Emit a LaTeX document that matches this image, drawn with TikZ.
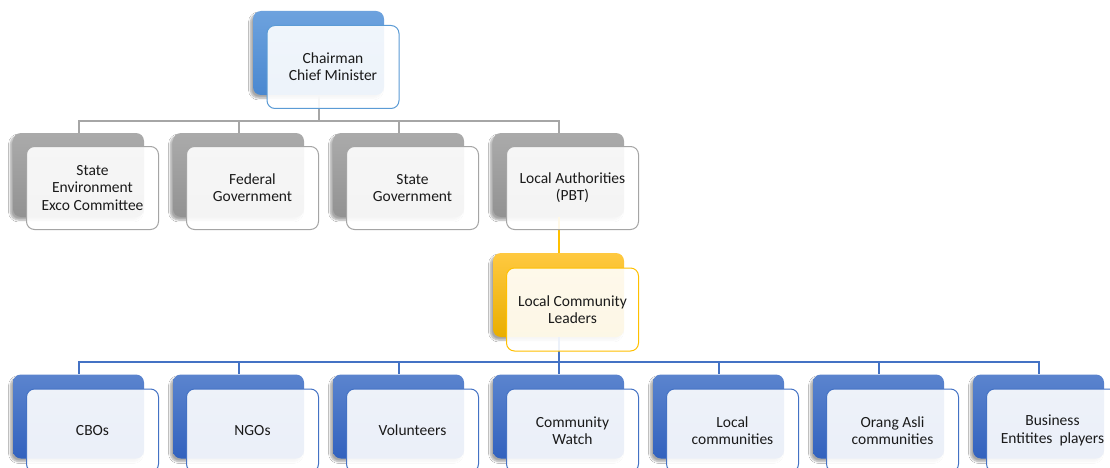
\documentclass[tikz,border=0pt]{standalone}
\usepackage{fontspec}
\setmainfont{Carlito}
\usetikzlibrary{shadows.blur}
\definecolor{cGray}{HTML}{A6A6A6}
\definecolor{cGrayEdge}{HTML}{A5A5A5}
\definecolor{cBlue}{HTML}{4472C4}
\definecolor{cBlueTop}{HTML}{5B84CE}
\definecolor{cBlueBot}{HTML}{3262BE}
\definecolor{cSkyTop}{HTML}{6DA2DE}
\definecolor{cSkyBot}{HTML}{4A88D0}
\definecolor{cSkyEdge}{HTML}{5B9BD5}
\definecolor{cGoldTop}{HTML}{FFC940}
\definecolor{cGoldBot}{HTML}{E9AE00}
\definecolor{cGold}{HTML}{FFC000}
\definecolor{cInk}{HTML}{1A1A1A}
\tikzset{
  backbox/.style={rounded corners=8pt, minimum width=131pt, minimum height=84pt,
    inner sep=0pt, draw=none,
    blur shadow={shadow xshift=-2.5pt, shadow yshift=-3pt, shadow blur steps=6, shadow opacity=35}},
  frontbox/.style={rounded corners=8pt, minimum width=132pt, minimum height=83pt,
    inner sep=0pt, align=center, line width=1pt, fill=white, fill opacity=0.9,
    text opacity=1, text=cInk, font=\fontsize{15.5}{17.3}\selectfont},
  grayback/.style={backbox, top color=cGray!95!white, bottom color=cGray!88!black},
  grayfront/.style={frontbox, draw=cGrayEdge},
  skyback/.style={backbox, top color=cSkyTop, bottom color=cSkyBot},
  skyfront/.style={frontbox, draw=cSkyEdge},
  goldback/.style={backbox, top color=cGoldTop, bottom color=cGoldBot},
  goldfront/.style={frontbox, draw=cGold},
  blueback/.style={backbox, top color=cBlueTop, bottom color=cBlueBot},
  bluefront/.style={frontbox, draw=cBlue},
  wire/.style={line width=2pt},
}
\begin{document}
\begin{tikzpicture}[x=1pt, y=-1pt]
\useasboundingbox (0,0) rectangle (1110,468);
\clip (0,0) rectangle (1110,468);
\fill[white] (0,0) rectangle (1110,468);

% bus points of the connector trees
\coordinate (busA) at (318.5,121);
\coordinate (busB) at (558.5,362);

% top unit
\node[skyback] (top) at (318.5,53) {};

% second row
\foreach \i in {1,...,4} {
  \node[grayback] (g\i) at ({78.5+160*(\i-1)},175) {};
}
% middle unit
\node[goldback] (lead) at (558.5,295) {};

% bottom row
\foreach \i in {1,...,7} {
  \node[blueback] (c\i) at ({78.5+160*(\i-1)},416.5) {};
}

% connectors, drawn under the front panels
\draw[wire, cGray] (top.south) -- (busA);
\foreach \i in {1,...,4} {
  \draw[wire, cGray] (busA) -| (g\i.north);
}
\draw[wire, cGold] (g4.south) -- (lead.north);
\draw[wire, cBlue] (lead.south) -- (busB);
\foreach \i in {1,...,7} {
  \draw[wire, cBlue] (busB) -| (c\i.north);
}

% front panels with the labels
\node[skyfront] (topf) at (333,67) {Chairman\\Chief Minister};

\node[grayfront] (g1f) at (92.5,188) {State\\Environment\\Exco Committee};
\node[grayfront] (g2f) at (252.5,188) {Federal\\Government};
\node[grayfront] (g3f) at (412.5,188) {State\\Government};
\node[grayfront] (g4f) at (572.5,188) {Local Authorities\\(PBT)};

\node[goldfront] (leadf) at (572.5,309.5) {Local Community\\Leaders};

\node[bluefront] (c1f) at (92.5,430.5) {CBOs};
\node[bluefront] (c2f) at (252.5,430.5) {NGOs};
\node[bluefront] (c3f) at (412.5,430.5) {Volunteers};
\node[bluefront] (c4f) at (572.5,430.5) {Community\\Watch};
\node[bluefront] (c5f) at (732.5,430.5) {Local\\communities};
\node[bluefront] (c6f) at (892.5,430.5) {Orang Asli\\communities};
\node[bluefront] (c7f) at (1052.5,430.5) {Business\\Entitites\ \ players};
\end{tikzpicture}
\end{document}
